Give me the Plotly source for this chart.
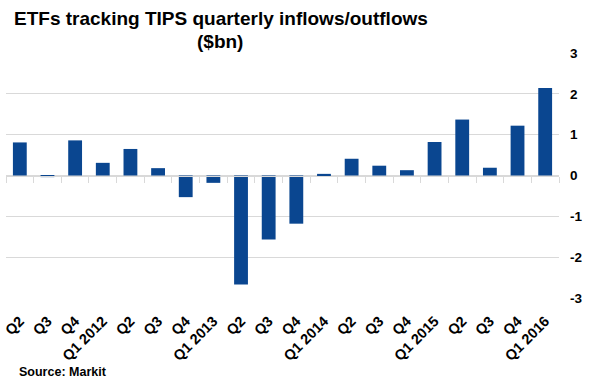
import plotly.graph_objects as go

categories = ["Q2", "Q3", "Q4", "Q1 2012", "Q2", "Q3", "Q4", "Q1 2013", "Q2", "Q3",
              "Q4", "Q1 2014", "Q2", "Q3", "Q4", "Q1 2015", "Q2", "Q3", "Q4", "Q1 2016"]
flows_bn = [0.81, -0.04, 0.86, 0.31, 0.65, 0.18, -0.53, -0.18, -2.67, -1.57,
            -1.18, 0.04, 0.41, 0.24, 0.13, 0.82, 1.37, 0.19, 1.22, 2.14]
y_tick_vals = [3, 2, 1, 0, -1, -2, -3]
y_tick_text = ["3", "2", "1", "0", "-1", "-2", "-3"]

idx = list(range(len(categories)))
FONT = "Liberation Sans, Arial, sans-serif"
GRID = "#d9d9d9"

W, H = 590, 385
ML, MR, MT, MB = 6, 31, 53, 87
PW, PH = W - ML - MR, H - MT - MB


def px_x(x):
    return (x - ML) / PW


def px_y(y):
    return (H - MB - y) / PH


fig = go.Figure()
fig.add_trace(go.Bar(x=idx, y=flows_bn, marker=dict(color="#0a4690", line=dict(width=0)),
                     width=0.5, hoverinfo="y"))
# invisible trace driving the tick axis along the zero line
fig.add_trace(go.Scatter(x=idx, y=[0] * len(idx), xaxis="x2", mode="lines",
                         line=dict(width=0), hoverinfo="skip", showlegend=False))

fig.update_layout(
    width=W, height=H,
    margin=dict(l=ML, r=MR, t=MT, b=MB, autoexpand=False),
    paper_bgcolor="white", plot_bgcolor="white",
    showlegend=False,
    font=dict(family=FONT, color="black"),
    xaxis=dict(range=[-0.5, len(idx) - 0.5], tickmode="array", tickvals=idx,
               ticktext=[f"<b>{c}</b>" for c in categories], tickangle=-45,
               showgrid=False, zeroline=False, showline=False, ticks="",
               tickfont=dict(size=14.5, family=FONT, color="black"),
               ticklabelstandoff=11, automargin=False),
    xaxis2=dict(range=[-0.5, len(idx) - 0.5], overlaying="x", anchor="free", position=0.5,
                showticklabels=False, showgrid=False, zeroline=False,
                showline=True, linecolor=GRID, linewidth=1,
                tickmode="array", tickvals=[i - 0.5 for i in range(len(idx) + 1)],
                ticks="outside", ticklen=6, tickcolor=GRID, tickwidth=1, automargin=False),
    yaxis=dict(range=[-3, 3], side="right", tickmode="array", tickvals=y_tick_vals,
               ticktext=[f"<b>{t}</b>" for t in y_tick_text],
               showgrid=True, gridcolor=GRID, gridwidth=1,
               zeroline=True, zerolinecolor=GRID, zerolinewidth=1,
               tickfont=dict(size=13.5, family=FONT, color="black"),
               ticklabelstandoff=10, automargin=False),
    annotations=[
        dict(text="<b>ETFs tracking TIPS quarterly inflows/outflows</b>", xref="paper", yref="paper",
             x=px_x(221), y=px_y(18), xanchor="center", yanchor="middle", showarrow=False,
             font=dict(size=19, family=FONT, color="black")),
        dict(text="<b>($bn)</b>", xref="paper", yref="paper",
             x=px_x(220), y=px_y(42), xanchor="center", yanchor="middle", showarrow=False,
             font=dict(size=19, family=FONT, color="black")),
        dict(text="<b>Source: Markit</b>", xref="paper", yref="paper",
             x=px_x(17), y=px_y(372), xanchor="left", yanchor="middle", showarrow=False,
             font=dict(size=12.5, family=FONT, color="black")),
    ],
)

fig.write_html("out.html", config={"displayModeBar": False},
               post_script="document.body.style.margin='0';document.body.style.overflow='hidden';")
